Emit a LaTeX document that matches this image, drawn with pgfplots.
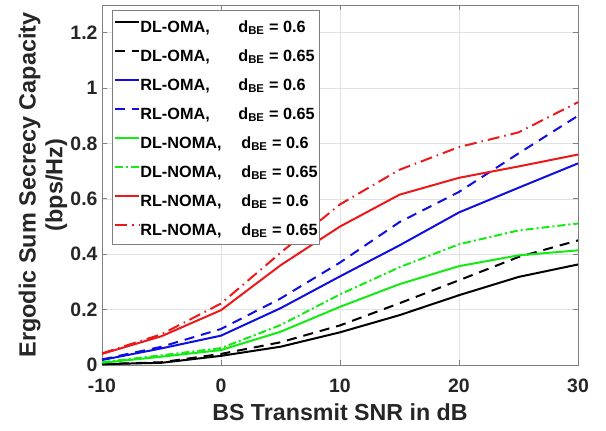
\documentclass[border=0pt]{standalone}
\usepackage{fontspec}
\setmainfont{Liberation Sans}
\usepackage{pgfplots}
\pgfplotsset{compat=1.18}
\definecolor{mgreen}{RGB}{20,235,20}
\definecolor{mred}{RGB}{235,25,25}
\definecolor{mblue}{RGB}{15,15,225}
\definecolor{txt}{RGB}{38,38,38}
\definecolor{axgray}{RGB}{128,128,128}
\definecolor{grd}{RGB}{225,225,225}
\newcommand{\lab}[3]{\makebox[#3][l]{#1}d\textsubscript{BE} = #2}
\begin{document}
\begin{tikzpicture}[font=\bfseries]
\begin{axis}[
  scale only axis,
  width=476bp, height=360bp,
  xmin=-10, xmax=30, ymin=0, ymax=1.3,
  xtick={-10,0,10,20,30},
  ytick={0,0.2,0.4,0.6,0.8,1,1.2},
  yticklabels={0,0.2,0.4,0.6,0.8,1,1.2},
  xticklabels={-10,0,10,20,30},
  tick label style={font=\fontsize{19.5}{21}\selectfont\bfseries, text=txt},
  xticklabel style={anchor=base, yshift=-27bp},
  yticklabel style={anchor=east, xshift=-1bp},
  every axis x label/.style={at={(axis description cs:0.5,-0.1528)}, anchor=base,
    font=\fontsize{23.3}{25}\selectfont\bfseries, text=txt},
  every axis y label/.style={at={(axis description cs:-0.124,0.5)}, anchor=center, rotate=90,
    align=center, font=\fontsize{23.5}{27}\selectfont\bfseries, text=txt},
  xlabel={BS Transmit SNR in dB},
  ylabel={Ergodic Sum Secrecy Capacity\\(bps/Hz)},
  grid=major,
  major grid style={grd, line width=0.6pt},
  axis line style={axgray, line width=0.8pt},
  tick style={axgray, line width=0.8pt},
  major tick length=5pt,
  tick align=inside,
  xtick pos=both, ytick pos=both,
  legend style={at={(axis description cs:0.021,0.986)}, anchor=north west, draw=axgray, line width=0.7pt,
    font=\fontsize{16.3}{18}\selectfont\bfseries, text=black, row sep=16bp,
    inner xsep=2bp, inner ysep=9bp, column sep=0bp,
    nodes={inner sep=0pt, text height=13bp, text depth=0bp}},
  legend cell align=left,
  legend image code/.code={\draw[#1, line width=2bp] plot coordinates {(0bp,4bp) (12bp,4bp) (24bp,4bp)};},
  every axis plot/.append style={line width=2bp},
]
\addplot[color=black] coordinates {(-10,0.003) (-5,0.008) (0,0.033) (5,0.066) (10,0.118) (15,0.18) (20,0.252) (25,0.318) (30,0.363)};
\addlegendentry{\lab{DL-OMA,}{0.6}{98bp}}
\addplot[color=black, dash pattern=on 10bp off 7bp] coordinates {(-10,0.003) (-5,0.01) (0,0.04) (5,0.082) (10,0.143) (15,0.223) (20,0.306) (25,0.39) (30,0.45)};
\addlegendentry{\lab{DL-OMA,}{0.65}{98bp}}
\addplot[color=mblue] coordinates {(-10,0.018) (-5,0.06) (0,0.106) (5,0.205) (10,0.32) (15,0.432) (20,0.551) (25,0.64) (30,0.728)};
\addlegendentry{\lab{RL-OMA,}{0.6}{98bp}}
\addplot[color=mblue, dash pattern=on 10bp off 7bp] coordinates {(-10,0.02) (-5,0.066) (0,0.13) (5,0.24) (10,0.37) (15,0.516) (20,0.625) (25,0.764) (30,0.9)};
\addlegendentry{\lab{RL-OMA,}{0.65}{98bp}}
\addplot[color=mgreen] coordinates {(-10,0.008) (-5,0.03) (0,0.054) (5,0.12) (10,0.21) (15,0.292) (20,0.357) (25,0.396) (30,0.414)};
\addlegendentry{\lab{DL-NOMA,}{0.6}{101bp}}
\addplot[color=mgreen, dash pattern=on 8bp off 3bp on 2bp off 3bp] coordinates {(-10,0.01) (-5,0.035) (0,0.061) (5,0.144) (10,0.255) (15,0.353) (20,0.436) (25,0.486) (30,0.511)};
\addlegendentry{\lab{DL-NOMA,}{0.65}{101bp}}
\addplot[color=mred] coordinates {(-10,0.04) (-5,0.104) (0,0.198) (5,0.36) (10,0.5) (15,0.615) (20,0.676) (25,0.717) (30,0.76)};
\addlegendentry{\lab{RL-NOMA,}{0.6}{101bp}}
\addplot[color=mred, dash pattern=on 12bp off 5bp on 1.5bp off 5bp] coordinates {(-10,0.042) (-5,0.111) (0,0.222) (5,0.405) (10,0.58) (15,0.705) (20,0.787) (25,0.84) (30,0.949)};
\addlegendentry{\lab{RL-NOMA,}{0.65}{101bp}}
\end{axis}
\path (-102bp,-66bp) rectangle (504bp,365bp);
\end{tikzpicture}
\end{document}
